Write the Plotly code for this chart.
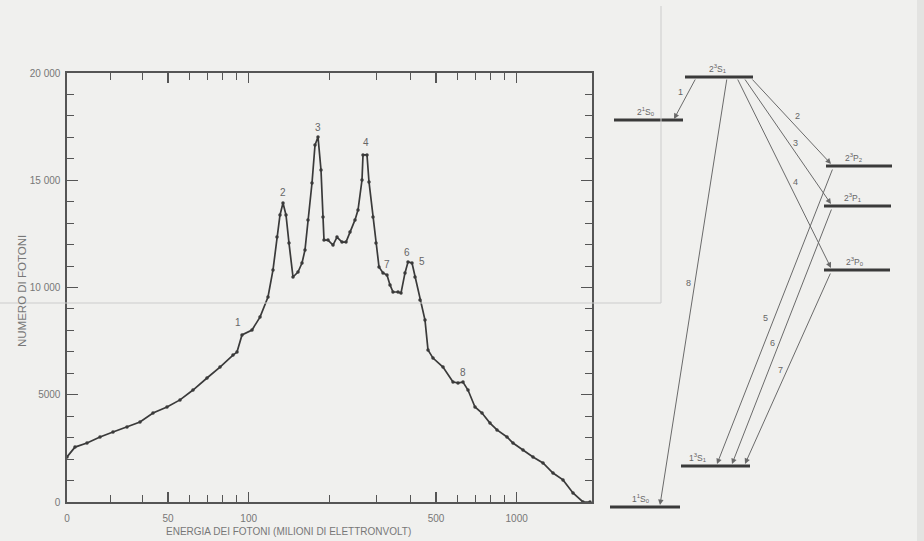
import numpy as np
import plotly.graph_objects as go

# ---------------- spectrum data (channel number, photon counts) ----------------
canale = [0, 2, 5, 8.25, 11.5, 15, 18.25, 21.5, 25, 28.25, 31.5, 35, 38.25, 41.5, 42.5,
          43.75, 46.25, 48.25, 50.25, 51.5, 52.5, 53.25, 54, 54.75, 55.5, 56.5, 57.75,
          58.75, 59.5, 60.25, 61.25, 62, 62.75, 63.5, 64, 64.25, 65.25, 66.5, 67.5, 68.75,
          69.75, 70.75, 72, 72.75, 73.75, 74, 75, 75.5, 76.5, 77.25, 78, 79, 80, 80.75,
          81.5, 82.75, 83.5, 84.5, 85.25, 86.25, 87, 88.25, 89.5, 90.25, 91.5, 94, 96.5,
          97.75, 99, 100.25, 102, 103.75, 105.75, 107.5, 110, 111.5, 114, 116.5, 119,
          121.5, 124, 126.5, 129, 130.75]
fotoni = [2100, 2560, 2750, 3030, 3260, 3500, 3730, 4150, 4430, 4760, 5220, 5780, 6290,
          6850, 6990, 7790, 8020, 8620, 9560, 10820, 12350, 13380, 13940, 13380, 12070,
          10490, 10720, 11140, 11750, 13150, 14870, 16640, 17020, 15480, 13290, 12210,
          12210, 11980, 12350, 12120, 12120, 12590, 13150, 13610, 15010, 16180, 16180,
          14920, 13290, 12070, 10960, 10680, 10580, 10120, 9790, 9790, 9740, 10680, 11190,
          11140, 10490, 9420, 8480, 7090, 6710, 6290, 5590, 5550, 5590, 5220, 4430, 4150,
          3680, 3360, 3030, 2750, 2420, 2100, 1820, 1350, 1030, 420, 0, 0]

# peak labels
picchi = ["1", "2", "3", "4", "7", "6", "5", "8"]
picchi_canale = [42.75, 54, 62.75, 74.75, 80, 85, 88.75, 99]
picchi_fotoni = [8345, 14450, 17480, 16740, 11050, 11650, 11190, 6060]

# x axis: energy (MeV) labels
energie_major = [0, 50, 100, 500, 1000]
energie_minor = [60, 70, 80, 90, 200, 300, 400, 600, 700, 800, 900]
canali_minor_bassi = [10.75, 18.75]

y_tickvals = [0, 5000, 10000, 15000, 20000]
y_ticktext = ["0", "5000", "10 000", "15 000", "20 000"]


def energia_a_canale(e):
    # calibration of the detector (quasi-logarithmic above 50 MeV)
    if e <= 0:
        return 0.0
    return (101 + 268 * np.log10(e / 50.0)) / 4.0


# ---------------- level diagram ----------------
livelli = ["2<sup>3</sup>S<sub>1</sub>", "2<sup>1</sup>S<sub>0</sub>", "2<sup>3</sup>P<sub>2</sub>",
           "2<sup>3</sup>P<sub>1</sub>", "2<sup>3</sup>P<sub>0</sub>", "1<sup>3</sup>S<sub>1</sub>",
           "1<sup>1</sup>S<sub>0</sub>"]
livelli_x0 = [685, 614, 826, 824, 824, 681, 610]
livelli_x1 = [753, 683, 892, 891, 890, 750, 680]
livelli_y = [77, 120, 166, 206, 270, 466, 507]
etichette_x = [718, 646, 853, 853, 855, 698, 641]

transizioni = ["1", "2", "3", "4", "8", "5", "6", "7"]
tr_x0 = [696, 751, 744, 737, 727, 833, 832, 831]
tr_y0 = [78, 78, 78, 78, 78, 168, 208, 272]
tr_x1 = [674, 831, 831, 831, 660, 717, 732, 745]
tr_y1 = [119, 164, 204, 268, 505, 464, 464, 464]
tr_lab_x = [680, 797, 795, 795, 688, 765, 772, 780]
tr_lab_y = [92, 116, 143, 182, 283, 318, 343, 370]

W, H = 924, 541
FONT = "Liberation Sans, Arial, sans-serif"
AX = "#555555"
TXT = "#777777"
BG = "#f0f0ee"

fig = go.Figure()

fig.add_trace(go.Scatter(
    x=canale, y=fotoni, mode="lines+markers",
    line=dict(color="#3a3a3a", width=1.7),
    marker=dict(color="#3a3a3a", size=3.5),
    hoverinfo="skip", showlegend=False, xaxis="x", yaxis="y"))

# level bars
for name, a, b, yy in zip(livelli, livelli_x0, livelli_x1, livelli_y):
    fig.add_trace(go.Scatter(x=[a, b], y=[yy, yy], mode="lines",
                             line=dict(color="#3a3a3a", width=3.2),
                             hoverinfo="skip", showlegend=False, xaxis="x2", yaxis="y2"))

annotations = []
for t, px, py in zip(picchi, picchi_canale, picchi_fotoni):
    annotations.append(dict(x=px, y=py, xref="x", yref="y", text=t, showarrow=False,
                            font=dict(family=FONT, size=10, color="#666")))

for name, xx, yy in zip(livelli, etichette_x, livelli_y):
    annotations.append(dict(x=xx, y=yy - 9, xref="x2", yref="y2", text=name, showarrow=False,
                            font=dict(family=FONT, size=8.5, color="#666")))

for t, a, b, c, d, lx, ly in zip(transizioni, tr_x0, tr_y0, tr_x1, tr_y1, tr_lab_x, tr_lab_y):
    annotations.append(dict(x=c, y=d, ax=a, ay=b, xref="x2", yref="y2", axref="x2", ayref="y2",
                            text="", showarrow=True, arrowhead=2, arrowsize=1.1, arrowwidth=1,
                            arrowcolor="#6a6a6a", standoff=0, startstandoff=0))
    annotations.append(dict(x=lx, y=ly, xref="x2", yref="y2", text=t, showarrow=False,
                            font=dict(family=FONT, size=9, color="#666")))

# axis titles
annotations.append(dict(x=288, y=531, xref="x2", yref="y2",
                        text="ENERGIA DEI FOTONI (MILIONI DI ELETTRONVOLT)", showarrow=False,
                        font=dict(family=FONT, size=10, color=TXT)))
annotations.append(dict(x=22, y=291, xref="x2", yref="y2", text="NUMERO DI FOTONI",
                        showarrow=False, textangle=-90,
                        font=dict(family=FONT, size=11.5, color=TXT)))

shapes = [
    # scan artefacts (page showing through)
    dict(type="line", xref="x2", yref="y2", x0=661, y0=6, x1=661, y1=303,
         line=dict(color="#cccccc", width=1), layer="above"),
    dict(type="line", xref="x2", yref="y2", x0=0, y0=303, x1=661, y1=303,
         line=dict(color="#cccccc", width=1), layer="above"),
    dict(type="rect", xref="x2", yref="y2", x0=917, y0=0, x1=924, y1=541,
         fillcolor="#e3e3e1", line=dict(width=0), layer="below"),
]

x0p, x1p = 67 / W, 592 / W
y0p, y1p = 1 - 502 / H, 1 - 73 / H

fig.update_layout(
    width=W, height=H, autosize=False, margin=dict(l=0, r=0, t=0, b=0, pad=0, autoexpand=False),
    paper_bgcolor=BG, plot_bgcolor="rgba(0,0,0,0)",
    showlegend=False, annotations=annotations, shapes=shapes,
    font=dict(family=FONT, color=TXT),
    xaxis=dict(domain=[x0p, x1p], range=[0, 131.25], anchor="y", automargin=False,
               tickmode="array",
               tickvals=[energia_a_canale(e) for e in energie_major],
               ticktext=[str(e) for e in energie_major],
               ticks="inside", ticklen=10, tickwidth=1.2, tickcolor=AX,
               showline=True, linecolor=AX, linewidth=1.6, mirror="ticks",
               showgrid=False, zeroline=False, ticklabelstandoff=6,
               tickfont=dict(family=FONT, size=10, color=TXT),
               minor=dict(tickmode="array",
                          tickvals=canali_minor_bassi + [energia_a_canale(e) for e in energie_minor],
                          ticks="inside", ticklen=7, tickwidth=1, tickcolor=AX, showgrid=False)),
    yaxis=dict(domain=[y0p, y1p], range=[0, 20000], anchor="x", automargin=False,
               tickmode="array", tickvals=y_tickvals, ticktext=y_ticktext,
               ticks="inside", ticklen=11, tickwidth=1.2, tickcolor=AX,
               showline=True, linecolor=AX, linewidth=1.6, mirror="ticks",
               showgrid=False, zeroline=False, ticklabelstandoff=3,
               tickfont=dict(family=FONT, size=10, color=TXT),
               minor=dict(dtick=1000, ticks="inside", ticklen=7, tickwidth=1,
                          tickcolor=AX, showgrid=False)),
    xaxis2=dict(domain=[0, 1], range=[0, W], anchor="y2", visible=False, fixedrange=True,
                automargin=False),
    yaxis2=dict(domain=[0, 1], range=[H, 0], anchor="x2", visible=False, fixedrange=True,
                automargin=False),
)

fig.write_html(
    "out.html",
    config={"displayModeBar": False, "staticPlot": True},
    post_script="document.body.style.margin='0';document.body.style.padding='0';"
                "document.body.style.background='" + BG + "';"
                "document.body.style.overflow='hidden';",
)
